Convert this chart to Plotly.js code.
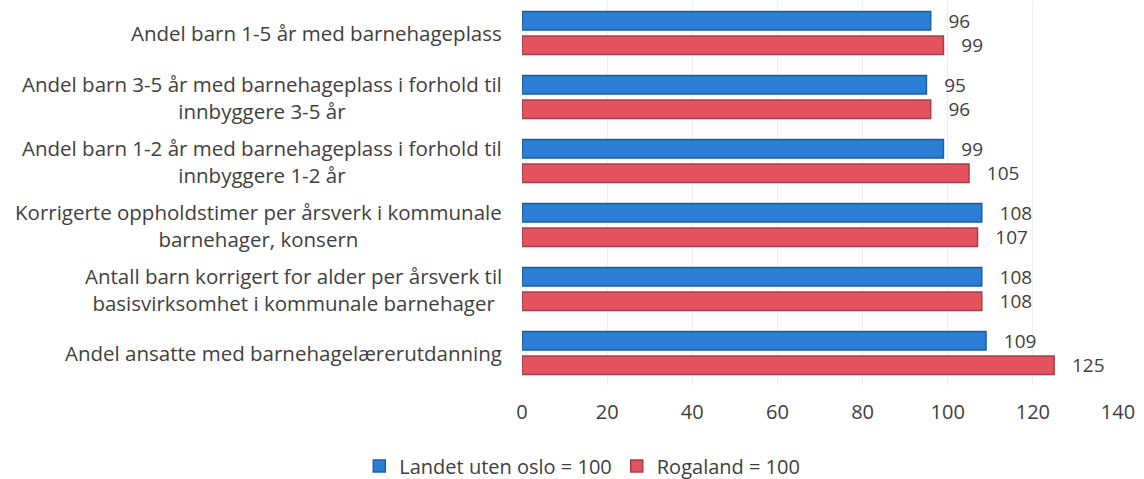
<!DOCTYPE html>
<html>
<head>
<meta charset="utf-8">
<script src="https://cdn.plot.ly/plotly-3.0.1.min.js"></script>
<style>
  html, body { margin: 0; padding: 0; background: #fff; }
  #chart { width: 1144px; height: 479px; }
</style>
</head>
<body>
<div id="chart"></div>
<script>
// categories, top to bottom
var categories = [
    'Andel barn 1-5 år med barnehageplass',
    'Andel barn 3-5 år med barnehageplass i forhold til<br>innbyggere 3-5 år',
    'Andel barn 1-2 år med barnehageplass i forhold til<br>innbyggere 1-2 år',
    'Korrigerte oppholdstimer per årsverk i kommunale<br>barnehager, konsern',
    'Antall barn korrigert for alder per årsverk til<br>basisvirksomhet i kommunale barnehager',
    'Andel ansatte med barnehagelærerutdanning'
];

var landetValues = [96, 95, 99, 108, 108, 109];
var rogalandValues = [99, 96, 105, 107, 108, 125];

var seriesNames = ['Landet uten oslo = 100', 'Rogaland = 100'];
var xTicks = [0, 20, 40, 60, 80, 100, 120, 140];

var textFont = {family: 'Open Sans, sans-serif', size: 20, color: '#404040'};

function barTrace(name, values, fill, edge) {
    return {
        type: 'bar',
        orientation: 'h',
        name: name,
        y: categories,
        x: values,
        text: values.map(function(v) { return '\u00a0\u00a0\u00a0' + v; }),
        textposition: 'outside',
        constraintext: 'none',
        textfont: {family: 'Open Sans, sans-serif', size: 19, color: '#404040'},
        cliponaxis: false,
        hoverinfo: 'x+name',
        marker: {color: fill, line: {color: edge, width: 1.5}}
    };
}

var data = [
    barTrace(seriesNames[0], landetValues, '#2a7fd4', '#1b5da3'),
    barTrace(seriesNames[1], rogalandValues, '#e2535f', '#a63f4b')
];

// category labels, centered lines, right edge next to the plot
var annotations = categories.map(function(c) {
    return {
        xref: 'paper', yref: 'y',
        x: 0, y: c,
        xanchor: 'right', yanchor: 'middle',
        xshift: -18,
        align: 'center',
        showarrow: false,
        text: c,
        font: {family: 'Open Sans, sans-serif', size: 20.5, color: '#404040'}
    };
});

var layout = {
    width: 1144,
    height: 479,
    margin: {l: 522, r: 26, t: 1, b: 94},
    paper_bgcolor: '#ffffff',
    plot_bgcolor: '#ffffff',
    barmode: 'group',
    bargap: 0.24,
    bargroupgap: 0.24,
    showlegend: true,
    legend: {
        orientation: 'h',
        xref: 'container', yref: 'container',
        x: 0.509, xanchor: 'center',
        y: 0.027, yanchor: 'middle',
        font: {family: 'Open Sans, sans-serif', size: 20, color: '#404040'},
        traceorder: 'normal'
    },
    xaxis: {
        range: [0, 140],
        tickvals: xTicks,
        showgrid: true,
        gridcolor: '#eeeeee',
        zeroline: false,
        showline: false,
        ticks: 'outside',
        ticklen: 9,
        tickcolor: 'rgba(0,0,0,0)',
        tickfont: textFont,
        automargin: false
    },
    yaxis: {
        type: 'category',
        range: [5.5, -0.5],
        showticklabels: false,
        showgrid: false,
        zeroline: false,
        showline: false,
        ticks: '',
        automargin: false
    },
    annotations: annotations
};

Plotly.newPlot('chart', data, layout, {displayModeBar: false});
</script>
</body>
</html>
